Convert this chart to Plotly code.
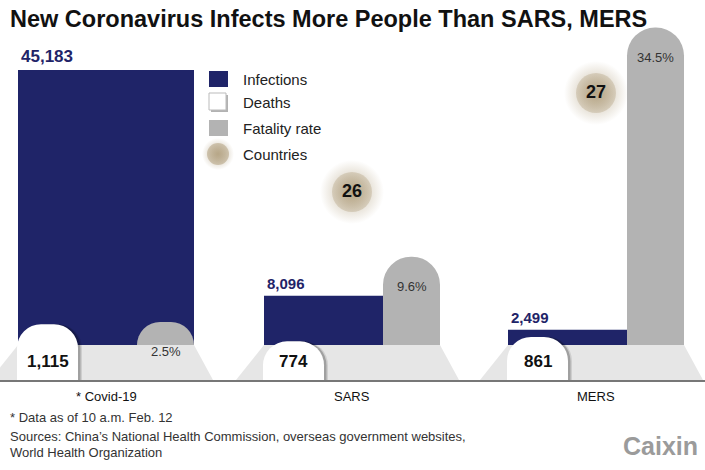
import plotly.graph_objects as go

# ---------------- data ----------------
diseases = ["* Covid-19", "SARS", "MERS"]
infections = [45183, 8096, 2499]
deaths = [1115, 774, 861]
fatality_rate = [2.5, 9.6, 34.5]
countries = [25, 26, 27]
infection_labels = ["45,183", "8,096", "2,499"]
death_labels = ["1,115", "774", "861"]
fatality_labels = ["2.5%", "9.6%", "34.5%"]
legend_items = ["Infections", "Deaths", "Fatality rate", "Countries"]

# ---------------- layout constants (pixel space) ----------------
W, H = 705, 470
group_left = [18, 264, 508]
GROUP_W = 176
inf_width = [176, 119, 119]
RATE_OFF, RATE_W = 119, 57
DEATH_OFF, DEATH_W = -1, 61
BASE_Y = 345      # bars' baseline
FLOOR_Y = 380     # floor line
bubble_y = [255, 192, 93]
INF_PX = 275 / 45183.0
RATE_PX = 9.2
DEATH_PX = 0.05

NAVY = "#1f2468"
GREY = "#b3b3b3"
TAN = (176, 158, 124)
PALE = (214, 204, 176)
SANS = "Liberation Sans, Arial, Helvetica, sans-serif"


def axis_range(base_px, px_per_unit):
    return [-(H - base_px) / px_per_unit, base_px / px_per_unit]


def rgba(c, a):
    return "rgba(%d,%d,%d,%s)" % (c[0], c[1], c[2], a)


centers = [g + GROUP_W / 2 for g in group_left]

fig = go.Figure()

# infections
fig.add_trace(go.Bar(x=group_left, y=infections, width=inf_width, offset=0,
                     marker=dict(color=NAVY, line=dict(width=0)),
                     xaxis="x", yaxis="y2", hoverinfo="skip"))
# fatality rate
fig.add_trace(go.Bar(x=group_left, y=fatality_rate, width=RATE_W, offset=RATE_OFF,
                     marker=dict(color=GREY, line=dict(width=0), cornerradius="50%"),
                     xaxis="x", yaxis="y3", hoverinfo="skip"))
# deaths (shadow + box)
for off, a in [(4, 0.10), (2.5, 0.22)]:
    fig.add_trace(go.Bar(x=group_left, y=deaths, width=DEATH_W, offset=DEATH_OFF + off,
                         marker=dict(color="rgba(0,0,0,%s)" % a, line=dict(width=0), cornerradius=24),
                         xaxis="x", yaxis="y4", hoverinfo="skip"))
fig.add_trace(go.Bar(x=group_left, y=deaths, width=DEATH_W, offset=DEATH_OFF,
                     marker=dict(color="white", line=dict(width=0), cornerradius=24),
                     xaxis="x", yaxis="y4", hoverinfo="skip"))

# countries bubbles
bub_cols = [PALE, TAN, TAN]
halo_size = [54, 64, 64]
core_size = [30, 40, 40]
fig.add_trace(go.Scatter(x=centers, y=bubble_y, mode="markers", xaxis="x", yaxis="y",
                         marker=dict(size=halo_size, color=[rgba(c, 0) for c in bub_cols],
                                     gradient=dict(type="radial", color=[rgba(c, 1) for c in bub_cols]),
                                     line=dict(width=0)), hoverinfo="skip"))
fig.add_trace(go.Scatter(x=centers, y=bubble_y, mode="markers+text", xaxis="x", yaxis="y",
                         text=[str(c) for c in countries], textposition="middle center",
                         textfont=dict(family=SANS, size=[12, 18, 18], color="#111", weight="bold"),
                         marker=dict(size=core_size, color=[rgba(c, 0.5) for c in bub_cols],
                                     gradient=dict(type="radial", color=[rgba(c, 1) for c in bub_cols]),
                                     line=dict(width=0)), hoverinfo="skip"))

# legend circle
LEG_X = 209
leg_y = [79, 102, 128, 154]
fig.add_trace(go.Scatter(x=[LEG_X + 9] * 2, y=[leg_y[3]] * 2, mode="markers", xaxis="x", yaxis="y",
                         marker=dict(size=[32, 22], color=[rgba(TAN, 0), rgba(TAN, 0.75)],
                                     gradient=dict(type="radial", color=rgba(TAN, 1)),
                                     line=dict(width=0)), hoverinfo="skip"))

shapes = []
# platforms
for g in group_left:
    shapes.append(dict(type="path", xref="x", yref="y", layer="below",
                       path="M %f,%f L %f,%f L %f,%f L %f,%f Z" % (g - 28, FLOOR_Y, g, BASE_Y,
                                                                   g + GROUP_W, BASE_Y, g + GROUP_W + 19, FLOOR_Y),
                       fillcolor="#e6e6e6", line=dict(width=0)))
shapes.append(dict(type="line", xref="x", yref="y", x0=0, x1=W, y0=FLOOR_Y + 1, y1=FLOOR_Y + 1,
                   line=dict(color="#777777", width=2), layer="above"))
# legend swatches
shapes.append(dict(type="rect", xref="x", yref="y", x0=LEG_X, x1=LEG_X + 19, y0=leg_y[0] - 8, y1=leg_y[0] + 8,
                   fillcolor=NAVY, line=dict(width=0)))
shapes.append(dict(type="rect", xref="x", yref="y", x0=LEG_X + 2, x1=LEG_X + 19, y0=leg_y[1] - 7, y1=leg_y[1] + 10,
                   fillcolor="rgba(0,0,0,0.3)", line=dict(width=0)))
shapes.append(dict(type="rect", xref="x", yref="y", x0=LEG_X, x1=LEG_X + 17, y0=leg_y[1] - 9, y1=leg_y[1] + 8,
                   fillcolor="white", line=dict(color="#bbbbbb", width=1)))
shapes.append(dict(type="rect", xref="x", yref="y", x0=LEG_X, x1=LEG_X + 19, y0=leg_y[2] - 8, y1=leg_y[2] + 8,
                   fillcolor=GREY, line=dict(width=0)))

ann = []
# title
ann.append(dict(x=8, y=19, xref="x", yref="y", xanchor="left", yanchor="middle", showarrow=False,
                text="<b>New Coronavirus Infects More People Than SARS, MERS</b>",
                font=dict(family=SANS, size=23.5, color="#111111")))
# legend labels
for t, yy in zip(legend_items, leg_y):
    ann.append(dict(x=241, y=yy, xref="x", yref="y", xanchor="left", yanchor="middle", showarrow=False,
                    text=t, font=dict(family=SANS, size=15, color="#222222")))
inf_font = [17, 15, 15]
for i, g in enumerate(group_left):
    ann.append(dict(x=g, y=infections[i], xref="x", yref="y2", xanchor="left", yanchor="bottom",
                    xshift=1, yshift=2, showarrow=False, text="<b>%s</b>" % infection_labels[i],
                    font=dict(family=SANS, size=inf_font[i], color=NAVY)))
    ann.append(dict(x=g + RATE_OFF + RATE_W / 2, y=fatality_rate[i], xref="x", yref="y3",
                    xanchor="center", yanchor="top", yshift=-20, showarrow=False,
                    text=fatality_labels[i], font=dict(family=SANS, size=13, color="#333333")))
    ann.append(dict(x=g + DEATH_OFF + DEATH_W / 2, y=361, xref="x", yref="y", xanchor="center",
                    yanchor="middle", showarrow=False, text="<b>%s</b>" % death_labels[i],
                    font=dict(family=SANS, size=17, color="#111111")))
    ann.append(dict(x=centers[i], y=396, xref="x", yref="y", xanchor="center", yanchor="middle",
                    showarrow=False, text=diseases[i], font=dict(family=SANS, size=13, color="#111111")))

foot = [("* Data as of 10 a.m. Feb. 12", 417),
        ("Sources: China\u2019s National Health Commission, overseas government websites,", 436),
        ("World Health Organization", 452)]
for t, yy in foot:
    ann.append(dict(x=8, y=yy, xref="x", yref="y", xanchor="left", yanchor="middle", showarrow=False,
                    text=t, font=dict(family=SANS, size=13, color="#333333")))
ann.append(dict(x=700, y=446, xref="x", yref="y", xanchor="right", yanchor="middle", showarrow=False,
                text="<b>Caixin</b>", font=dict(family=SANS, size=25, color="#9b9b9b")))

hidden = dict(visible=False, showgrid=False, zeroline=False, fixedrange=True)
fig.update_layout(
    width=W, height=H, margin=dict(l=0, r=0, t=0, b=0),
    paper_bgcolor="white", plot_bgcolor="white",
    showlegend=False, barmode="overlay",
    xaxis=dict(range=[0, W], domain=[0, 1], **hidden),
    yaxis=dict(range=[H, 0], domain=[0, 1], **hidden),
    yaxis2=dict(range=axis_range(BASE_Y, INF_PX), overlaying="y", **hidden),
    yaxis3=dict(range=axis_range(BASE_Y, RATE_PX), overlaying="y", **hidden),
    yaxis4=dict(range=axis_range(FLOOR_Y, DEATH_PX), overlaying="y", **hidden),
    shapes=shapes, annotations=ann,
)
fig.write_html("out.html")
